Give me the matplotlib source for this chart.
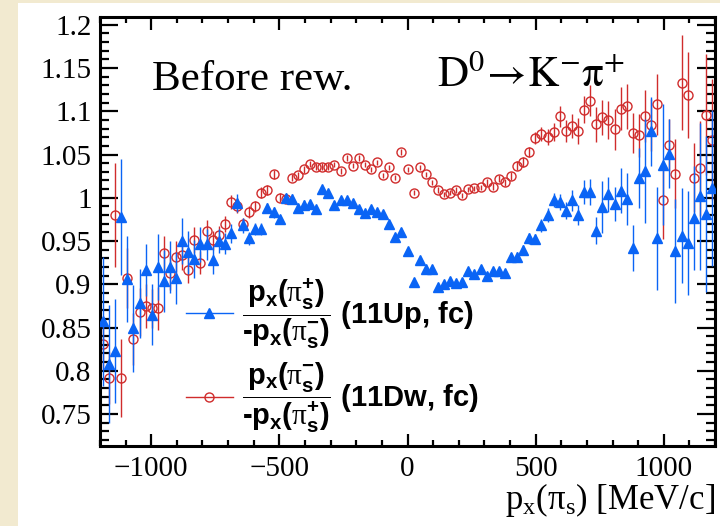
import matplotlib
matplotlib.use("Agg")
from matplotlib import pyplot as plt
from matplotlib.patches import Rectangle
from matplotlib.lines import Line2D
from matplotlib.font_manager import FontProperties
from matplotlib.ticker import MultipleLocator, FuncFormatter
import numpy as np

# 101 uniform bins between -1200 and 1200 MeV/c
n_bins = 101
x_range = (-1200, 1200)

# p_x(pi_s+) / -p_x(pi_s-)  (11Up, fc)
up_vals = [0.857, 0.808, 0.823, 0.978, 0.906, 0.849, 0.878, 0.916, 0.865, 0.920,
           0.904, 0.920, 0.907, 0.950, 0.937, 0.929, 0.946, 0.946, 0.928, 0.950,
           0.947, 0.959, 0.994, 0.968, 0.953, 0.964, 0.964, 0.988, 0.983, 0.975,
           1.000, 0.999, 0.988, 0.992, 0.993, 0.987, 1.010, 1.005, 0.992, 0.997,
           0.997, 0.994, 0.987, 0.982, 0.987, 0.983, 0.981, 0.970, 0.955, 0.961,
           0.938, 0.903, 0.928, 0.918, 0.918, 0.897, 0.900, 0.904, 0.901, 0.903,
           0.915, 0.912, 0.918, 0.910, 0.915, 0.915, 0.913, 0.931, 0.932, 0.940,
           0.953, 0.952, 0.968, 0.980, 0.997, 0.995, 0.985, 0.997, 0.980, 1.007,
           1.007, 0.962, 0.989, 1.004, 0.993, 1.008, 0.999, 0.942, 1.023, 1.031,
           1.077, 0.953, 1.038, 1.051, 0.938, 0.956, 0.948, 0.977, 1.002, 0.981,
           1.011]
up_errs = [0.075, 0.068, 0.060, 0.067, 0.050, 0.050, 0.040, 0.030, 0.035, 0.038,
           0.036, 0.030, 0.030, 0.027, 0.025, 0.022, 0.020, 0.018, 0.016, 0.014,
           0.012, 0.011, 0.010, 0.009, 0.008, 0.007, 0.007, 0.006, 0.006, 0.005,
           0.005, 0.005, 0.005, 0.005, 0.004, 0.004, 0.004, 0.004, 0.004, 0.004,
           0.004, 0.004, 0.004, 0.004, 0.004, 0.004, 0.004, 0.004, 0.004, 0.004,
           0.004, 0.004, 0.004, 0.004, 0.004, 0.004, 0.004, 0.004, 0.004, 0.004,
           0.004, 0.004, 0.004, 0.004, 0.004, 0.004, 0.005, 0.005, 0.005, 0.005,
           0.006, 0.006, 0.007, 0.008, 0.008, 0.009, 0.010, 0.012, 0.012, 0.014,
           0.015, 0.016, 0.030, 0.020, 0.020, 0.026, 0.030, 0.027, 0.035, 0.060,
           0.040, 0.060, 0.070, 0.040, 0.060, 0.055, 0.060, 0.060, 0.085, 0.090,
           0.090]

# p_x(pi_s-) / -p_x(pi_s+)  (11Dw, fc)
dw_vals = [0.831, 0.792, 0.980, 0.792, 0.907, 0.837, 0.868, 0.875, 0.872, 0.872,
           0.936, 0.913, 0.932, 0.934, 0.917, 0.951, 0.925, 0.962, 0.951, 0.957,
           0.970, 0.995, 0.990, 0.970, 0.984, 0.990, 1.006, 1.009, 1.027, 1.000,
           0.999, 1.023, 1.026, 1.033, 1.039, 1.036, 1.036, 1.036, 1.038, 1.031,
           1.046, 1.037, 1.046, 1.038, 1.033, 1.041, 1.026, 1.035, 1.023, 1.053,
           1.033, 1.006, 1.035, 1.027, 1.018, 1.009, 1.004, 1.006, 1.009, 1.003,
           1.010, 1.011, 1.012, 1.018, 1.013, 1.022, 1.018, 1.025, 1.037, 1.041,
           1.053, 1.069, 1.074, 1.070, 1.076, 1.094, 1.077, 1.083, 1.077, 1.102,
           1.112, 1.085, 1.093, 1.090, 1.079, 1.103, 1.106, 1.075, 1.072, 1.095,
           1.084, 1.108, 0.997, 1.061, 1.028, 1.133, 1.119, 1.023, 1.034, 1.096,
           1.067]
dw_errs = [0.030, 0.030, 0.060, 0.045, 0.035, 0.030, 0.028, 0.025, 0.022, 0.025,
           0.020, 0.020, 0.018, 0.018, 0.016, 0.015, 0.013, 0.012, 0.011, 0.010,
           0.009, 0.008, 0.008, 0.007, 0.007, 0.006, 0.006, 0.006, 0.005, 0.005,
           0.005, 0.004, 0.004, 0.004, 0.004, 0.004, 0.004, 0.004, 0.003, 0.003,
           0.003, 0.003, 0.003, 0.003, 0.003, 0.003, 0.003, 0.003, 0.003, 0.003,
           0.003, 0.003, 0.003, 0.003, 0.003, 0.003, 0.003, 0.003, 0.003, 0.003,
           0.003, 0.003, 0.003, 0.004, 0.004, 0.004, 0.004, 0.005, 0.005, 0.006,
           0.006, 0.007, 0.008, 0.009, 0.010, 0.012, 0.013, 0.014, 0.015, 0.016,
           0.018, 0.020, 0.020, 0.022, 0.024, 0.025, 0.026, 0.023, 0.025, 0.030,
           0.030, 0.035, 0.045, 0.030, 0.040, 0.055, 0.050, 0.040, 0.055, 0.070,
           0.070]

up_label = (r'$\dfrac{\mathrm{p}_\mathrm{x}(\mathsf{\pi}_\mathrm{s}^{+})}'
            r'{\text{-}\mathrm{p}_\mathrm{x}(\mathsf{\pi}_\mathrm{s}^{-})}$ (11Up, fc)')
dw_label = (r'$\dfrac{\mathrm{p}_\mathrm{x}(\mathsf{\pi}_\mathrm{s}^{-})}'
            r'{\text{-}\mathrm{p}_\mathrm{x}(\mathsf{\pi}_\mathrm{s}^{+})}$ (11Dw, fc)')

blue = '#0a64f5'
red = '#d02c2c'

plt.rcParams['mathtext.fontset'] = 'custom'
plt.rcParams['mathtext.rm'] = 'Liberation Sans:bold'
plt.rcParams['mathtext.it'] = 'Liberation Sans:bold'
plt.rcParams['mathtext.bf'] = 'Liberation Sans:bold'
plt.rcParams['mathtext.sf'] = 'Liberation Serif'
plt.rcParams['font.family'] = ['Liberation Serif', 'DejaVu Sans']

edges = np.linspace(x_range[0], x_range[1], n_bins + 1)
centers = 0.5 * (edges[:-1] + edges[1:])

fig = plt.figure(figsize=(7.2, 5.26), dpi=100)
fig.patch.set_facecolor('#f2ead0')
fig.add_artist(Rectangle((18 / 720, 0), 1, 523 / 526, transform=fig.transFigure,
                         facecolor='white', edgecolor='none', zorder=-10))
ax = fig.add_axes([100 / 720, 80 / 526, 615 / 720, 429 / 526])

ax.errorbar(centers, up_vals, yerr=up_errs, fmt='^', color=blue, ms=6.5,
            elinewidth=1.0, capsize=0, zorder=3)
ax.errorbar(centers, dw_vals, yerr=dw_errs, fmt='o', color=red, mfc='none',
            mec=red, mew=1.0, ms=6.5, elinewidth=1.0, capsize=0, zorder=2)

ax.set_xlim(-1200, 1200)
ax.set_ylim(0.713, 1.209)
ax.xaxis.set_major_locator(MultipleLocator(500))
ax.xaxis.set_minor_locator(MultipleLocator(100))
ax.yaxis.set_major_locator(MultipleLocator(0.05))
ax.yaxis.set_minor_locator(MultipleLocator(0.01))
ax.yaxis.set_major_formatter(FuncFormatter(lambda v, p: '%g' % round(v, 3)))

ax.tick_params(which='both', direction='in', top=True, right=True, width=1.6,
               labelsize=21)
ax.tick_params(axis='x', which='major', length=9, pad=7)
ax.tick_params(axis='x', which='minor', length=4.5)
ax.tick_params(axis='y', which='major', length=13, pad=6)
ax.tick_params(axis='y', which='minor', length=6.5)
for s in ax.spines.values():
    s.set_linewidth(2.2)

# axis title, right aligned under the axis like ROOT does it
ax.text(1.0, -0.148, r'p$_\mathsf{x}$(π$_\mathsf{s}$) [MeV/c]', transform=ax.transAxes,
        fontsize=25, ha='right', va='baseline')

ax.text(0.085, 0.83, 'Before rew.', transform=ax.transAxes, fontsize=31,
        va='baseline')
ax.text(0.548, 0.837, r'$\mathrm{D}^{0}\!\rightarrow\!\mathrm{K}^{-}\mathrm{\pi}^{+}$',
        transform=ax.transAxes, fontsize=31, va='baseline', math_fontfamily='stix')

handles = [Line2D([], [], color=blue, marker='^', ms=6.5, lw=1.0),
           Line2D([], [], color=red, marker='o', mfc='none', mec=red, ms=6.5, lw=1.0)]
leg_font = FontProperties(family='Liberation Sans', weight='bold', size=21)
ax.legend(handles, [up_label, dw_label], loc='upper left',
          bbox_to_anchor=(0.14, 0.396), frameon=False, prop=leg_font,
          borderpad=0, borderaxespad=0, handlelength=1.6, handletextpad=0.3,
          labelspacing=0.35)

fig.savefig('out.png', dpi=100, facecolor=fig.get_facecolor())
